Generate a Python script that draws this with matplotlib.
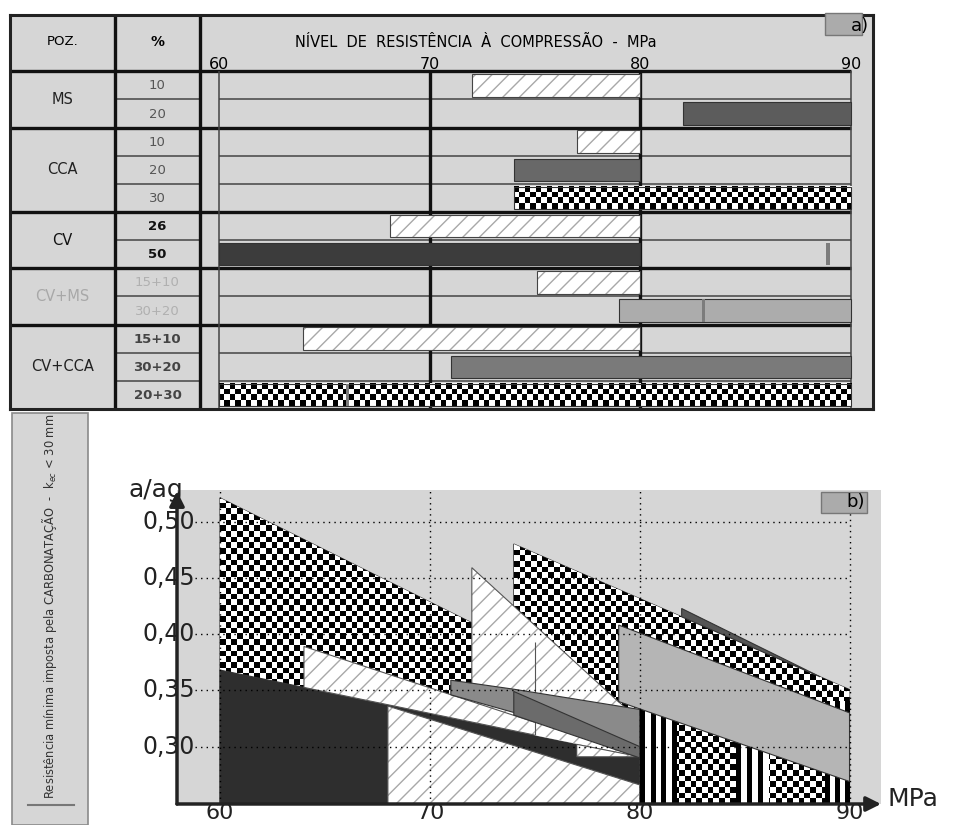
import numpy as np
import matplotlib.pyplot as plt
from matplotlib.patches import Polygon, Rectangle
from matplotlib.lines import Line2D

plt.rcParams['font.family'] = ['DejaVu Sans']

# ---------------- a) table data ----------------
groups = ['MS', 'CCA', 'CV', 'CV+MS', 'CV+CCA']
group_rows = [2, 3, 2, 2, 3]
pct_labels = ['10', '20', '10', '20', '30', '26', '50',
              '15+10', '30+20', '15+10', '30+20', '20+30']
bar_lo = [72.0, 82.0, 77.0, 74.0, 74.0, 68.1, 60.0, 75.1, 79.0, 64.0, 71.0, 60.0]
bar_hi = [80, 90, 80, 80, 90, 80, 80, 80, 90, 80, 90, 90]
mark_rows = [6, 8, 11]
mark_vals = [88.9, 83.0, 66.1]
scale_ticks = [60, 70, 80, 90]

# ---------------- b) chart data (MPa, a/ag) ----------------
chk1_x = [60, 60, 72, 72]
chk1_y = [0.249, 0.521, 0.41, 0.249]
chk2_x = [74, 74, 90, 90]
chk2_y = [0.249, 0.48, 0.3507, 0.249]
ms10_x = [72, 72, 80, 80]
ms10_y = [0.249, 0.459, 0.3226, 0.249]
cv50_x = [60, 60, 80, 80]
cv50_y = [0.249, 0.368, 0.291, 0.249]
cv26_x = [68, 68, 80, 80]
cv26_y = [0.249, 0.336, 0.266, 0.249]
cvcca1510_x = [64, 64, 80]
cvcca1510_y = [0.3526, 0.389, 0.291]
cvms1510_x = [75, 75, 80, 80]
cvms1510_y = [0.310, 0.393, 0.325, 0.291]
cca10_x = [77, 77, 80]
cca10_y = [0.302, 0.291, 0.291]
cvcca3020_x = [71, 71, 74, 80, 80]
cvcca3020_y = [0.346, 0.359, 0.351, 0.333, 0.299]
cca20_x = [74, 74, 80, 80]
cca20_y = [0.328, 0.349, 0.300, 0.290]
stripe_lo = [80.0, 84.6, 88.85]
stripe_hi = [81.75, 86.15, 90.0]
cvms3020_x = [79, 79, 90, 90]
cvms3020_y = [0.340, 0.408, 0.330, 0.269]
ms20_x = [82, 82, 88.6]
ms20_y = [0.4153, 0.4227, 0.362]
ag_ticks = [0.30, 0.35, 0.40, 0.45, 0.50]
mpa_ticks = [60, 70, 80, 90]

BG = '#d6d6d6'


def checker(ax, x0, x1, y0, y1, cw, ch, z, clip=None):
    nx = max(1, int(round((x1 - x0) / cw)))
    ny = max(1, int(round((y1 - y0) / ch)))
    arr = np.add.outer(np.arange(ny), np.arange(nx)) % 2
    im = ax.imshow(arr, cmap='gray', vmin=0, vmax=1, extent=(x0, x1, y0, y1),
                   origin='lower', interpolation='nearest', aspect='auto', zorder=z)
    if clip is not None:
        im.set_clip_path(clip)
    return im


def stripes(ax, x0, x1, y0, y1, sw, z):
    n = max(1, int(round((x1 - x0) / sw)))
    arr = (np.arange(n) % 2).reshape(1, n)
    ax.imshow(arr, cmap='gray', vmin=0, vmax=1, extent=(x0, x1, y0, y1),
              origin='lower', interpolation='nearest', aspect='auto', zorder=z)


def hatched(ax, xy, z, edge='#444444', lw=0.8):
    ax.add_patch(Polygon(xy, closed=True, facecolor='white', edgecolor='#a8a8a8',
                         hatch='//', lw=0, zorder=z))
    if edge is not None:
        ax.add_patch(Polygon(xy, closed=True, fill=False, edgecolor=edge, lw=lw, zorder=z))


fig = plt.figure(figsize=(9.55, 8.25), dpi=100)

# ================= a) table =================
ax_t = fig.add_axes([10 / 955, 416 / 825, 863 / 955, 394 / 825])
ax_t.set_facecolor(BG)
ax_t.set_xticks([])
ax_t.set_yticks([])
for s in ax_t.spines.values():
    s.set_linewidth(2.2)
    s.set_color('#222222')

c1, c2, c3 = 55.06, 59.1, 60.0   # column borders (MPa units of the scale)
xmin_t, xmax_t = 50.08, 91.04
n_rows = len(pct_labels)

# row / group lines
seps = list(np.cumsum(group_rows)[:-1])
for r in range(1, n_rows):
    if r in seps:
        ax_t.hlines(r, xmin_t, 90, colors='#111111', lw=2.4, zorder=2)
    else:
        ax_t.hlines(r, c1, c2, colors='#444444', lw=1.1, zorder=2)
        ax_t.hlines(r, c3, 90, colors='#444444', lw=1.1, zorder=2)
ax_t.hlines(0, xmin_t, 90, colors='#111111', lw=2.4, zorder=2)
ax_t.vlines([c1, c2], -2, n_rows, colors='#111111', lw=2.4, zorder=2)
ax_t.vlines([60, 90], 0, n_rows, colors='#444444', lw=1.1, zorder=2)
ax_t.vlines([70, 80], 0, n_rows, colors='#111111', lw=2.4, zorder=2)

bar_fill = ['hatch', '#5c5c5c', 'hatch', '#686868', 'checker', 'hatch',
            '#3c3c3c', 'hatch', '#acacac', 'hatch', '#7a7a7a', 'checker']
for i in range(n_rows):
    y0, y1 = i + 0.1, i + 0.9
    lo, hi = bar_lo[i], bar_hi[i]
    xy = [(lo, y0), (hi, y0), (hi, y1), (lo, y1)]
    if bar_fill[i] == 'hatch':
        hatched(ax_t, xy, 4)
    elif bar_fill[i] == 'checker':
        checker(ax_t, lo, hi, y0, y1, 0.256, 0.2, 4)
        ax_t.add_patch(Polygon(xy, fill=False, edgecolor='#333333', lw=0.8, zorder=4))
    else:
        ax_t.add_patch(Polygon(xy, facecolor=bar_fill[i], edgecolor='#333333', lw=0.8, zorder=4))
for r, v in zip(mark_rows, mark_vals):
    ax_t.add_patch(Rectangle((v - 0.08, r + 0.1), 0.16, 0.8, facecolor='#7c7c7c',
                             edgecolor='none', zorder=5))

# labels
ax_t.text((xmin_t + c1) / 2, -1.05, 'POZ.', ha='center', va='center', fontsize=9.5)
ax_t.text((c1 + c2) / 2, -1.05, '%', ha='center', va='center', fontsize=10, fontweight='bold')
ax_t.text(72.2, -0.86, 'NÍVEL  DE  RESISTÊNCIA  À  COMPRESSÃO  -  MPa',
          ha='center', va='baseline', fontsize=10.5)
for t in scale_ticks:
    ax_t.text(t, -0.08, str(t), ha='center', va='baseline', fontsize=11.5)

pct_colors = ['#555555'] * 5 + ['#111111'] * 2 + ['#b0b0b0'] * 2 + ['#444444'] * 3
pct_bold = [False] * 5 + [True] * 2 + [False] * 2 + [True] * 3
for i, lab in enumerate(pct_labels):
    ax_t.text((c1 + c2) / 2, i + 0.52, lab, ha='center', va='center', fontsize=9.5,
              color=pct_colors[i], fontweight='bold' if pct_bold[i] else 'normal')
grp_colors = ['#222222', '#222222', '#111111', '#a8a8a8', '#222222']
start = 0
for g, n, col in zip(groups, group_rows, grp_colors):
    ax_t.text((xmin_t + c1) / 2, start + n / 2, g, ha='center', va='center',
              fontsize=10.5, color=col)
    start += n

ax_t.add_patch(Rectangle((88.76, -1.29), 1.76, -0.78, facecolor='#ababab',
                         edgecolor='#777777', lw=1, clip_on=False, zorder=6))
ax_t.text(90.85, -1.62, 'a)', ha='right', va='center', fontsize=13, clip_on=False, zorder=7)
ax_t.set_xlim(xmin_t, xmax_t)
ax_t.set_ylim(n_rows, -2)

# ================= left box =================
fig.patches.append(Rectangle((12 / 955, 0), 76 / 955, 412 / 825, transform=fig.transFigure,
                             facecolor=BG, edgecolor='#8a8a8a', lw=1.2))
fig.text(50 / 955, 219 / 825,
         'Resistência mínima imposta pela CARBONATAÇÃO  -  k$_{ec}$ < 30 mm',
         rotation=90, ha='center', va='center', fontsize=8.3, color='#333333')
fig.add_artist(Line2D([28 / 955, 74 / 955], [20 / 825, 20 / 825], color='#777777', lw=1.5))

# ================= b) chart =================
ax_b = fig.add_axes([177 / 955, 21 / 825, 704 / 955, 314 / 825])
ax_b.set_facecolor(BG)
ax_b.set_xticks([])
ax_b.set_yticks([])
for s in ax_b.spines.values():
    s.set_visible(False)


def poly(xs, ys, z, fc=None, pattern=None, edge=True):
    xy = list(zip(xs, ys))
    if pattern == 'hatch':
        hatched(ax_b, xy, z, edge='#555555' if edge else None, lw=0.8)
        return
    if pattern == 'checker':
        p = Polygon(xy, closed=True, fill=False, edgecolor='#333333', lw=0.8, zorder=z)
        ax_b.add_patch(p)
        checker(ax_b, min(xs), max(xs), min(ys), max(ys), 0.27, 0.00507, z, clip=p)
        return
    ax_b.add_patch(Polygon(xy, closed=True, facecolor=fc, edgecolor='#333333', lw=0.8, zorder=z))


poly(chk1_x, chk1_y, 1, pattern='checker')
poly(chk2_x, chk2_y, 2, pattern='checker')
poly(ms10_x, ms10_y, 3, pattern='hatch')
poly(cv50_x, cv50_y, 4, fc='#2e2e2e')
poly(cv26_x, cv26_y, 5, pattern='hatch')
poly(cvcca1510_x, cvcca1510_y, 6, pattern='hatch')
poly(cvms1510_x, cvms1510_y, 7, pattern='hatch', edge=False)
ax_b.vlines(cvms1510_x[0], cvms1510_y[0], cvms1510_y[1], colors='#555555', lw=0.8, zorder=7)
poly(cca10_x, cca10_y, 8, pattern='hatch')
poly(cvcca3020_x, cvcca3020_y, 9, fc='#8a8a8a')
poly(cca20_x, cca20_y, 10, fc='#6b6b6b')
for lo, hi in zip(stripe_lo, stripe_hi):
    stripes(ax_b, lo, hi, 0.249, 0.34, 0.245, 11)
poly(cvms3020_x, cvms3020_y, 12, fc='#b5b5b5')
poly(ms20_x, ms20_y, 13, fc='#555555')

# dotted grid
ax_b.hlines(ag_ticks, 58.81, 90, colors='black', linestyles=(0, (1, 3)), lw=1, zorder=20)
ax_b.vlines(mpa_ticks, 0.249, 0.528, colors='black', linestyles=(0, (1, 3)), lw=1, zorder=20)

# tick labels
for v in ag_ticks:
    ax_b.text(58.81, v, f'{v:.2f}'.replace('.', ','), ha='right', va='center',
              fontsize=17, color='#222222', zorder=25)
for v in mpa_ticks:
    ax_b.text(v, 0.2318, str(v), ha='center', va='bottom', fontsize=16, color='#222222')
ax_b.text(55.62, 0.522, 'a/ag', ha='left', va='baseline', fontsize=18, color='#222222')
ax_b.text(91.8, 0.2534, 'MPa', ha='left', va='center', fontsize=18, color='#222222')

# axes arrows
ax_b.annotate('', xy=(91.5, 0.249), xytext=(57.95, 0.249),
              arrowprops=dict(arrowstyle='-|>', lw=2.5, color='#222222', mutation_scale=22,
                              shrinkA=0, shrinkB=0), annotation_clip=False, zorder=30)
ax_b.annotate('', xy=(57.95, 0.527), xytext=(57.95, 0.249),
              arrowprops=dict(arrowstyle='-|>', lw=2.5, color='#222222', mutation_scale=22,
                              shrinkA=0, shrinkB=0), annotation_clip=False, zorder=30)

# b) label
ax_b.add_patch(Rectangle((88.62, 0.508), 2.19, 0.018, facecolor='#ababab',
                         edgecolor='#777777', lw=1, zorder=22))
ax_b.text(90.75, 0.517, 'b)', ha='right', va='center', fontsize=13, zorder=23)

ax_b.set_xlim(57.95, 91.5)
ax_b.set_ylim(0.249, 0.528)

fig.savefig('out.png', dpi=100)
